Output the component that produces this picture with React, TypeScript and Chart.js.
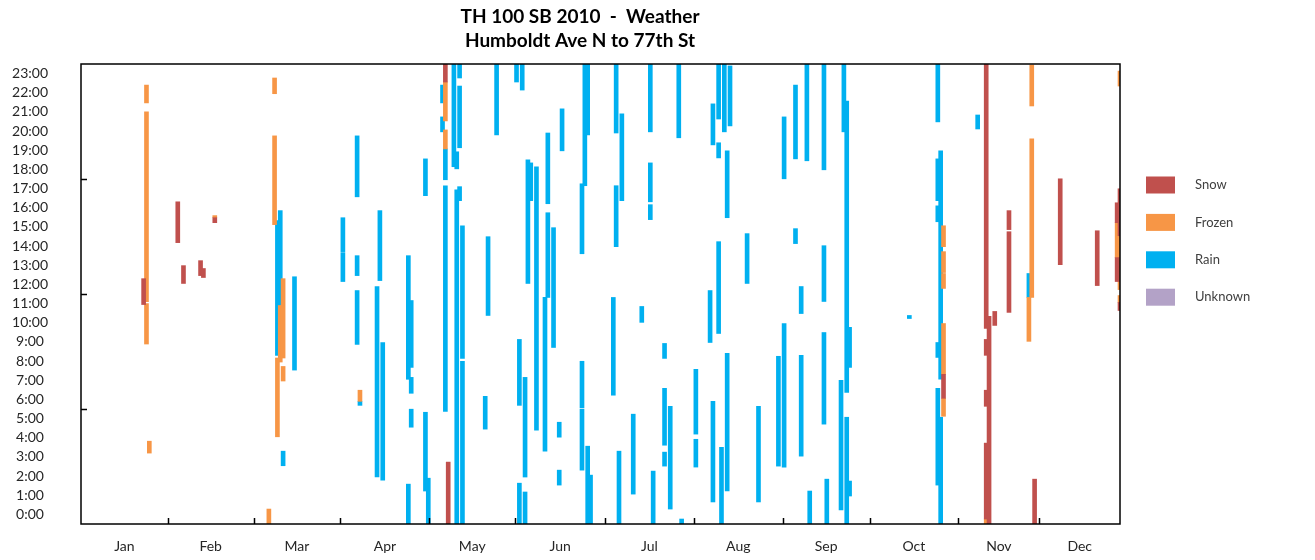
import React, { useEffect, useRef } from 'react';
import { Chart, registerables } from 'chart.js';

Chart.register(...registerables);

// ---------- DATA ----------
const titleLines = ['TH 100 SB 2010  -  Weather', 'Humboldt Ave N to 77th St'];
const seriesNames = ['Snow', 'Frozen', 'Rain', 'Unknown'];
const seriesColors = ['#C0504D', '#F79646', '#00B0F0', '#B3A2C7'];

const monthLabels = ['Jan', 'Feb', 'Mar', 'Apr', 'May', 'Jun', 'Jul', 'Aug', 'Sep', 'Oct', 'Nov', 'Dec'];
// month boundary tick positions (day of year units, as on the original axis)
const monthTickDays = [30.5, 60.6, 91.1, 122.4, 152.5, 184.1, 215.3, 246.5, 277, 308.2, 336.7];
const hourValues = Array.from({ length: 24 }, (_, i) => i);
const hourLabels = hourValues.map((h) => `${h}:00`);
const hourTickMarks = [6, 12, 18];

// [day of year, start hour, end hour]
const snowBars: [number, number, number][] = [
  [22, 11.45, 12.8], [34, 14.68, 16.81], [36, 12.55, 13.48], [42, 12.96, 13.74], [43, 12.86, 13.33],
  [47, 15.72, 15.98], [128, 23.06, 24], [129, 0, 3.23], [303, 6.56, 7.81],
  [318, 10.2, 24], [318, 8.8, 9.63], [318, 6.14, 6.98], [318, 0.26, 4.22], [319, 0, 10.83],
  [321, 10.36, 11.09], [326, 15.36, 16.35], [326, 11.04, 15.25], [335, 0, 2.34], [344, 13.53, 18.01],
  [357, 12.44, 15.3], [364, 15.72, 16.76], [364, 12.65, 13.9], [365, 15.04, 17.49], [365, 11.14, 11.56],
];

const frozenBars: [number, number, number][] = [
  [23, 21.97, 22.9], [23, 11.6, 21.5], [23, 9.39, 11.5], [24, 3.7, 4.32], [47, 15.98, 16.09],
  [66, 0, 0.78], [68, 22.45, 23.27], [68, 15.62, 20.25], [69, 4.55, 8.66], [70, 8.45, 11.4],
  [71, 8.66, 12.8], [71, 7.46, 8.22], [98, 6.4, 6.98], [128, 21.03, 23.06], [128, 19.57, 20.56],
  [303, 14.47, 15.56], [303, 13.12, 14.21], [303, 12.29, 13.07], [303, 7.81, 10.46], [303, 5.62, 6.56],
  [318, 0, 0.26], [333, 9.53, 11.82], [334, 21.81, 23.95], [334, 11.82, 20.09],
  [364, 13.9, 15.72], [365, 22.85, 23.63], [365, 12.23, 15.04], [365, 11.56, 11.92],
];

const rainBars: [number, number, number][] = [
  [69, 8.8, 15.83], [70, 11.4, 16.35], [71, 3.04, 3.8], [75, 8.03, 12.9], [92, 14.21, 15.98],
  [92, 12.65, 14.16], [97, 17.07, 20.25], [97, 12.96, 14.0], [97, 9.37, 12.18], [98, 6.19, 6.4],
  [104, 2.45, 12.39], [105, 12.7, 16.35], [106, 2.29, 9.47], [115, 7.55, 14.0], [115, 0, 2.08],
  [116, 8.17, 11.66], [116, 6.82, 7.65], [116, 5.05, 5.99], [121, 17.13, 19.05], [121, 1.72, 5.83],
  [122, 0, 2.39], [127, 21.97, 22.9], [127, 20.46, 21.24], [128, 17.96, 19.57], [128, 5.88, 17.65],
  [131, 18.64, 24], [132, 18.53, 19.42], [132, 0, 17.44], [133, 23.27, 24], [133, 19.63, 22.85],
  [133, 16.87, 17.6], [134, 8.64, 15.56], [134, 0, 8.49], [142, 4.95, 6.66], [143, 10.88, 14.99],
  [146, 20.3, 24], [153, 23.06, 24], [154, 6.19, 9.63], [154, 0, 2.13], [155, 22.64, 24],
  [156, 2.45, 7.65], [156, 0, 1.67], [157, 12.55, 19.0], [158, 16.87, 18.84], [160, 4.89, 18.64],
  [163, 3.8, 11.82], [164, 16.71, 20.4], [164, 11.82, 16.24], [166, 9.21, 15.46], [168, 4.53, 5.31],
  [168, 2.03, 2.81], [169, 19.47, 21.66], [176, 14.1, 17.75], [176, 6.06, 8.49], [176, 2.81, 5.99],
  [177, 17.65, 24], [178, 20.3, 24], [178, 0, 4.06], [179, 0, 2.55], [187, 6.72, 11.82],
  [188, 20.4, 24], [188, 14.47, 17.65], [189, 0, 3.8], [190, 16.87, 21.4], [194, 1.56, 5.73],
  [197, 10.52, 11.35], [200, 20.46, 24], [200, 16.81, 18.84], [200, 15.88, 16.66], [201, 0, 2.76],
  [205, 8.64, 9.42], [205, 4.11, 7.08], [205, 3.02, 3.75], [207, 0.78, 6.14], [210, 20.15, 24],
  [211, 0, 0.26], [216, 4.69, 8.07], [216, 2.97, 4.42], [221, 9.47, 12.18], [222, 19.78, 21.92],
  [222, 1.15, 6.4], [224, 21.13, 24], [224, 19.1, 19.89], [224, 9.94, 14.73], [225, 0, 4.0],
  [226, 20.46, 24], [227, 15.98, 19.47], [227, 1.72, 8.9], [228, 20.77, 23.9], [234, 12.55, 15.15],
  [238, 1.15, 6.14], [245, 3.02, 8.75], [247, 18.01, 21.24], [247, 2.97, 10.46], [251, 19.05, 22.9],
  [251, 14.63, 15.41], [253, 10.98, 12.39], [253, 3.54, 8.8], [255, 18.95, 24], [256, 0, 1.72],
  [261, 18.48, 24], [261, 11.61, 14.52], [261, 5.21, 9.99], [262, 0, 2.34], [267, 0.73, 7.5],
  [268, 20.46, 24], [269, 6.87, 22.07], [269, 0, 5.57], [270, 8.17, 10.26], [270, 1.46, 2.24],
  [291, 10.72, 10.88], [301, 20.98, 24], [301, 16.87, 19.05], [301, 15.77, 16.6], [301, 8.69, 9.47],
  [301, 2.03, 7.08], [302, 7.55, 19.47], [302, 0, 5.57], [315, 20.61, 21.34], [333, 11.82, 13.07],
];

const unknownBars: [number, number, number][] = [];

const DAYS_IN_YEAR = 365;
const FONT = 'Lato, "Open Sans", sans-serif';

const toPoints = (arr: [number, number, number][]) => arr.map(([d, a, b]) => ({ x: d, y: [a, b] }));

const boundaries = [0, ...monthTickDays, DAYS_IN_YEAR];
const monthLabelDays = monthLabels.map((_, i) => (boundaries[i] + boundaries[i + 1]) / 2);

const decorPlugin = {
  id: 'decor',
  afterDatasetsDraw(chart: any) {
    const { ctx, chartArea } = chart;
    const xs = chart.scales.x;
    const ys = chart.scales.y;
    ctx.save();
    ctx.strokeStyle = '#000';
    ctx.lineWidth = 1.5;
    ctx.strokeRect(chartArea.left, chartArea.top, chartArea.right - chartArea.left, chartArea.bottom - chartArea.top);
    ctx.beginPath();
    monthTickDays.forEach((d) => {
      const px = Math.round(xs.getPixelForValue(d)) + 0.5;
      ctx.moveTo(px, chartArea.bottom);
      ctx.lineTo(px, chartArea.bottom - 6);
    });
    hourTickMarks.forEach((h) => {
      const py = Math.round(ys.getPixelForValue(h)) + 0.5;
      ctx.moveTo(chartArea.left, py);
      ctx.lineTo(chartArea.left + 6, py);
    });
    ctx.stroke();
    ctx.restore();
  },
  afterDraw(chart: any) {
    const { ctx } = chart;
    ctx.save();
    // title
    ctx.fillStyle = '#000';
    ctx.font = `bold 19px ${FONT}`;
    ctx.textAlign = 'center';
    ctx.textBaseline = 'middle';
    ctx.fillText(titleLines[0], 580, 17);
    ctx.fillText(titleLines[1], 580, 41);
    // legend
    ctx.textAlign = 'left';
    ctx.font = `13px ${FONT}`;
    chart.data.datasets.forEach((ds: any, i: number) => {
      const y = 185 + i * 37.4;
      ctx.fillStyle = ds.backgroundColor;
      ctx.fillRect(1146, y - 8.5, 29, 17);
      ctx.fillStyle = '#404040';
      ctx.fillText(ds.label, 1195, y);
    });
    ctx.restore();
  },
};

export default function App() {
  const canvasRef = useRef<HTMLCanvasElement | null>(null);

  useEffect(() => {
    document.body.style.margin = '0';
    const canvas = canvasRef.current;
    if (!canvas) return;
    const allBars = [snowBars, frozenBars, rainBars, unknownBars];
    const chart = new Chart(canvas, {
      type: 'bar',
      data: {
        datasets: seriesNames.map((name, i) => ({
          label: name,
          data: toPoints(allBars[i]) as any,
          backgroundColor: seriesColors[i],
          borderWidth: 0,
          barThickness: 4,
          grouped: false,
        })) as any,
      },
      options: {
        animation: false,
        responsive: false,
        devicePixelRatio: 1,
        layout: { padding: { left: 0, top: 64, right: 195, bottom: 0 } },
        plugins: { legend: { display: false }, title: { display: false }, tooltip: { enabled: false } },
        scales: {
          x: {
            type: 'linear',
            min: 0,
            max: DAYS_IN_YEAR,
            offset: false,
            grid: { display: false, drawTicks: false },
            border: { display: false },
            afterBuildTicks: (s: any) => {
              s.ticks = monthLabelDays.map((v) => ({ value: v }));
            },
            afterFit: (s: any) => {
              s.height = 36;
              s.paddingLeft = 0;
              s.paddingRight = 0;
            },
            ticks: {
              autoSkip: false,
              maxRotation: 0,
              padding: 14,
              color: '#262626',
              font: { family: FONT, size: 14 },
              callback: (_v: any, i: number) => monthLabels[i],
            },
          },
          y: {
            type: 'linear',
            min: 0,
            max: 24,
            grid: { display: false, drawTicks: false },
            border: { display: false },
            afterBuildTicks: (s: any) => {
              s.ticks = hourValues.map((h) => ({ value: h + 0.5 }));
            },
            afterFit: (s: any) => {
              s.width = 81;
              s.paddingTop = 0;
              s.paddingBottom = 0;
            },
            ticks: {
              autoSkip: false,
              crossAlign: 'center',
              padding: 33,
              color: '#262626',
              font: { family: FONT, size: 14 },
              callback: (_v: any, i: number) => hourLabels[i],
            },
          },
        },
      } as any,
      plugins: [decorPlugin],
    });
    return () => chart.destroy();
  }, []);

  return <canvas ref={canvasRef} width={1315} height={560} style={{ display: 'block' }} />;
}
